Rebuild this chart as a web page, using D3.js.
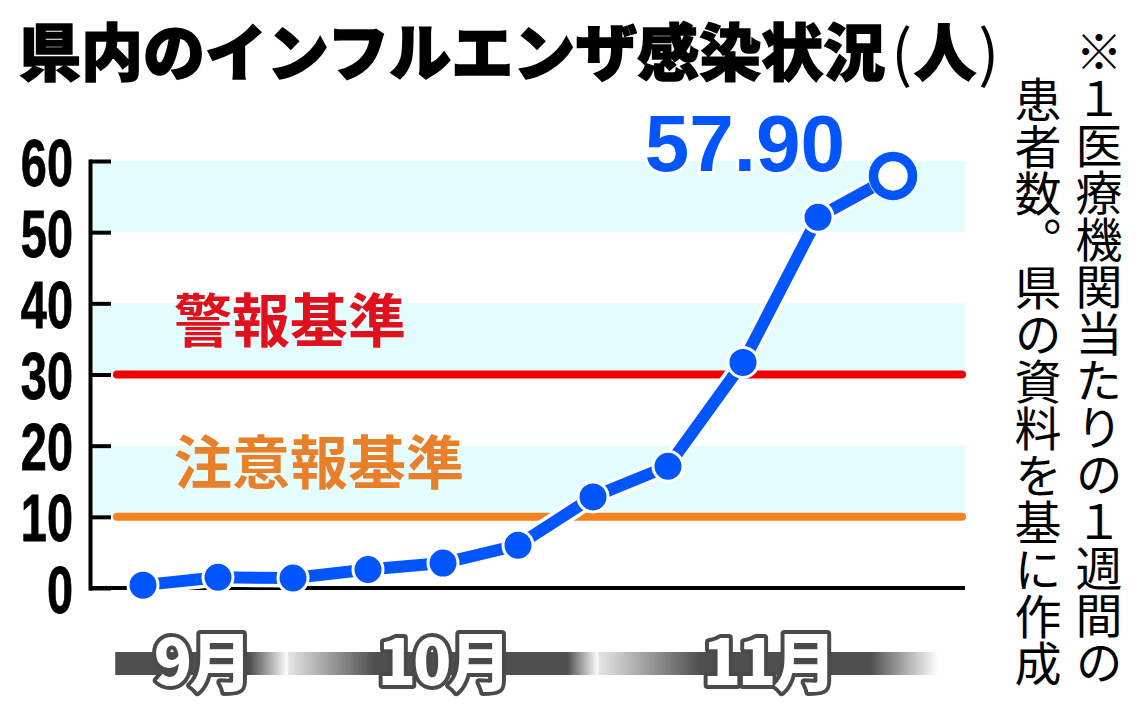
<!DOCTYPE html>
<html><head><meta charset="utf-8">
<script src="https://cdn.jsdelivr.net/npm/d3@7"></script>
<style>html,body{margin:0;padding:0;background:#fff;} svg{display:block;}</style>
</head><body>
<svg id="chart" width="1140" height="721"></svg>
<script>
// ---- data ----
const weeks = [0, 1, 2, 3, 4, 5, 6, 7, 8, 9, 10];
const patients = [0.4, 1.5, 1.4, 2.6, 3.5, 6.0, 12.8, 17.1, 31.7, 52.1, 57.90];
const yTicks = [0, 10, 20, 30, 40, 50, 60];
const bandLow = [10, 30, 50];
const bandHigh = [20, 40, 60];
const thresholdNames = ["注意報基準", "警報基準"];
const thresholdValues = [10, 30];
const months = ["9月", "10月", "11月"];
const monthStart = [-0.37, 1.93, 6.07];   // in weeks
const monthEnd = [1.93, 6.07, 10.6];
const titleText = "県内のインフルエンザ感染状況";
const unitText = ["(", "人", ")"];
const noteLines = ["※１医療機関当たりの１週間の", "患者数。県の資料を基に作成"];

// ---- drawing ----
const svg = d3.select("#chart");
const W = 1140, H = 721;
svg.append("rect").attr("width", W).attr("height", H).attr("fill", "#fff");

const x = d3.scaleLinear().domain([0, 10]).range([143, 893]);
const y = d3.scaleLinear().domain([0, 60]).range([588, 161]);
const plotLeft = 92, plotRight = 965;
const BLUE = "#0055ff";
const JP = "'Noto Sans CJK JP','Noto Sans CJK SC',sans-serif";

// bands
svg.append("g").selectAll("rect").data(bandLow).join("rect")
  .attr("x", plotLeft).attr("width", plotRight - plotLeft)
  .attr("y", (d, i) => y(bandHigh[i]))
  .attr("height", (d, i) => y(d) - y(bandHigh[i]))
  .attr("fill", "#e3fcfd");

// threshold lines
const thrColors = ["#f5821f", "#f00000"];
const thrText = ["#e8802a", "#e0101c"];
svg.append("g").selectAll("line").data(thresholdValues).join("line")
  .attr("x1", 117).attr("x2", 962)
  .attr("y1", d => y(d)).attr("y2", d => y(d))
  .attr("stroke", (d, i) => thrColors[i]).attr("stroke-width", 8)
  .attr("stroke-linecap", "round");
svg.append("g").selectAll("text").data(thresholdNames).join("text")
  .attr("x", 174).attr("y", (d, i) => y(thresholdValues[i]) - 33)
  .attr("font-family", JP).attr("font-weight", 700).attr("font-size", 58)
  .attr("fill", (d, i) => thrText[i]).text(d => d);

// axis
const axis = d3.axisLeft(y).tickValues(yTicks).tickSizeInner(-21).tickSizeOuter(0).tickPadding(17);
const gAxis = svg.append("g").attr("transform", "translate(90,0)").call(axis);
gAxis.select(".domain").attr("stroke", "#000").attr("stroke-width", 4).attr("stroke-linecap", "square");
gAxis.selectAll(".tick line").attr("stroke", "#000").attr("stroke-width", 4);
gAxis.selectAll(".tick text")
  .attr("x", null).attr("dy", null)
  .attr("transform", "translate(-17,24) scale(0.7,1)")
  .attr("text-anchor", "end")
  .attr("font-family", "'Liberation Sans',Arial,sans-serif")
  .attr("font-weight", 700).attr("font-size", 67).attr("fill", "#000")
  .attr("stroke", "#000").attr("stroke-width", 0.8);

// baseline at 0
svg.append("line").attr("x1", 90).attr("x2", plotRight)
  .attr("y1", y(0)).attr("y2", y(0))
  .attr("stroke", "#000").attr("stroke-width", 4);

// series line
const pts = weeks.map((w, i) => [x(w), y(patients[i])]);
const line = d3.line();
svg.append("path").attr("d", line(pts)).attr("fill", "none")
  .attr("stroke", "#fff").attr("stroke-width", 19).attr("stroke-linejoin", "round");
svg.append("path").attr("d", line(pts)).attr("fill", "none")
  .attr("stroke", BLUE).attr("stroke-width", 12).attr("stroke-linejoin", "round");

// dots
svg.append("g").selectAll("circle").data(pts.slice(0, -1)).join("circle")
  .attr("cx", d => d[0]).attr("cy", d => d[1]).attr("r", 15)
  .attr("fill", BLUE).attr("stroke", "#fff").attr("stroke-width", 3);
const last = pts[pts.length - 1];
svg.append("circle").attr("cx", last[0]).attr("cy", last[1]).attr("r", 25)
  .attr("fill", "#fff");
svg.append("circle").attr("cx", last[0]).attr("cy", last[1]).attr("r", 19.5)
  .attr("fill", "#fff").attr("stroke", BLUE).attr("stroke-width", 9.5);

// last value label
svg.append("text").attr("x", last[0] - 48).attr("y", last[1] - 5)
  .attr("text-anchor", "end")
  .attr("font-family", "'Liberation Sans',Arial,sans-serif").attr("font-weight", 700)
  .attr("font-size", 80).attr("fill", BLUE)
  .attr("stroke", "#fff").attr("stroke-width", 6).attr("paint-order", "stroke")
  .text(d3.format(".2f")(patients[patients.length - 1]));

// month bar with gradients
const defs = svg.append("defs");
const fadeIn = [0, 0.28, 0.3];
const fadeOut = [0.78, 0.9, 0.8];
months.forEach((m, i) => {
  const g = defs.append("linearGradient").attr("id", "mg" + i)
    .attr("x1", 0).attr("x2", 1).attr("y1", 0).attr("y2", 0);
  g.append("stop").attr("offset", 0).attr("stop-color", i === 0 ? "#4f4f4f" : "#e6e6e6");
  g.append("stop").attr("offset", fadeIn[i]).attr("stop-color", "#4f4f4f");
  g.append("stop").attr("offset", fadeOut[i]).attr("stop-color", "#4f4f4f");
  g.append("stop").attr("offset", 1).attr("stop-color", "#ffffff");
});
svg.append("g").selectAll("rect").data(months).join("rect")
  .attr("x", (d, i) => x(monthStart[i]))
  .attr("width", (d, i) => x(monthEnd[i]) - x(monthStart[i]))
  .attr("y", 652).attr("height", 23)
  .attr("fill", (d, i) => `url(#mg${i})`);
svg.append("g").selectAll("text").data(months).join("text")
  .attr("x", (d, i) => (x(monthStart[i]) + x(monthEnd[i])) / 2)
  .attr("y", 685).attr("text-anchor", "middle")
  .attr("font-family", JP).attr("font-weight", 900).attr("font-size", 63)
  .attr("letter-spacing", -3)
  .attr("fill", "#fff").attr("stroke", "#4a4a4a").attr("stroke-width", 8)
  .attr("stroke-linejoin", "round").attr("paint-order", "stroke")
  .text(d => d);

// title
const title = svg.append("text").attr("x", 19).attr("y", 76)
  .attr("font-family", JP).attr("font-weight", 900).attr("font-size", 62)
  .attr("fill", "#000");
title.append("tspan").attr("stroke", "#000").attr("stroke-width", 1.5).text(titleText);
title.append("tspan").attr("dx", 6).attr("font-weight", 400).text(unitText[0]);
title.append("tspan").attr("dx", 2).attr("stroke", "#000").attr("stroke-width", 1.5).text(unitText[1]);
title.append("tspan").attr("dx", 2).attr("font-weight", 400).text(unitText[2]);

// vertical note
svg.append("g").selectAll("text").data(noteLines).join("text")
  .attr("writing-mode", "vertical-rl")
  .attr("x", (d, i) => i === 0 ? 1099 : 1038)
  .attr("y", (d, i) => i === 0 ? 28 : 76)
  .attr("font-family", JP).attr("font-weight", 400).attr("font-size", 47)
  .attr("fill", "#000").text(d => d);
</script>
</body></html>
